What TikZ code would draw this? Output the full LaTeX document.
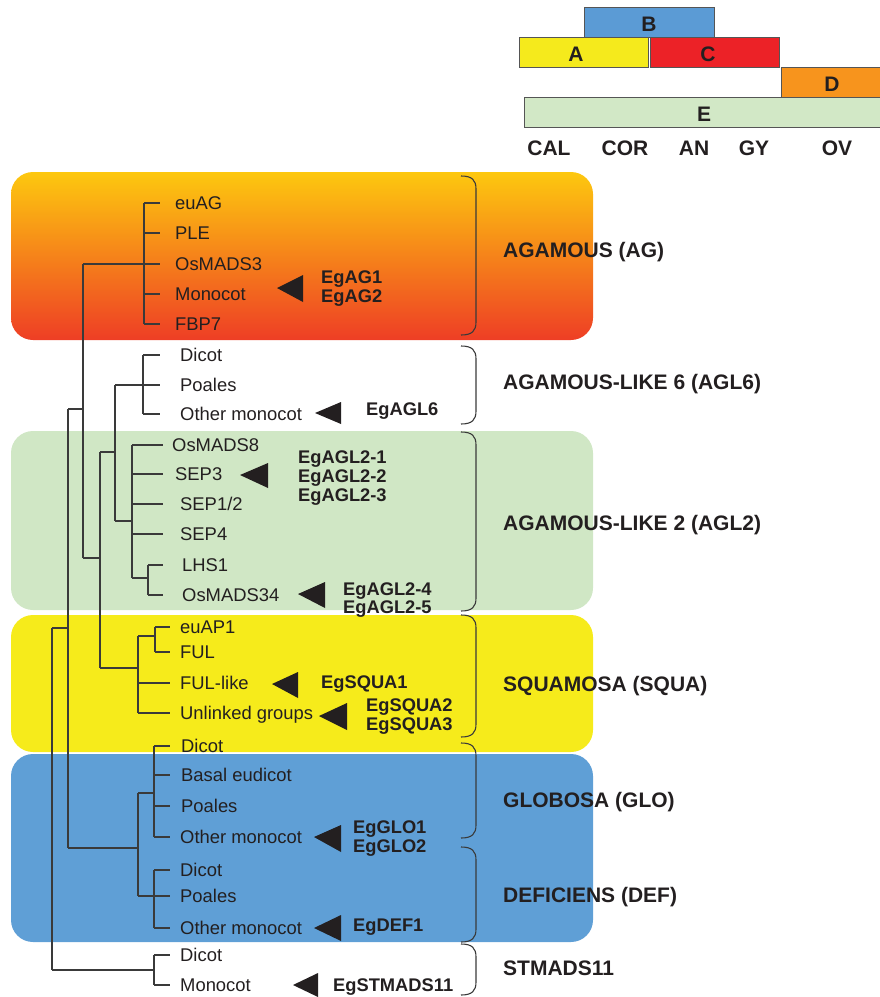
\documentclass[tikz,border=0pt]{standalone}
\usepackage{fontspec}
\setmainfont{Liberation Sans}
\definecolor{linec}{HTML}{3A3A3A}
\definecolor{txt}{HTML}{231F20}
\definecolor{boxline}{HTML}{555555}
\definecolor{agtop}{HTML}{FDC80F}
\definecolor{agmid}{HTML}{F7931E}
\definecolor{agbot}{HTML}{EE3E25}
\definecolor{gfill}{HTML}{D0E7C5}
\definecolor{yfill}{HTML}{F6EB1B}
\definecolor{bfill}{HTML}{5F9FD6}
\definecolor{colA}{HTML}{F5EA1C}
\definecolor{colB}{HTML}{5B9BD5}
\definecolor{colC}{HTML}{EC2227}
\definecolor{colD}{HTML}{F7941D}
\definecolor{colE}{HTML}{D2E8C6}
\newcommand\mytick[3]{\draw[tree] (#1 |- #2.west) -- ++(#3,0);}
\newcommand\mybrk[2]{\draw[brk] (461,#1) .. controls (472,#1) and (476,#1+4) .. (476,#1+13) -- (476,#2-13) .. controls (476,#2-4) and (472,#2) .. (461,#2);}
\begin{document}
\begin{tikzpicture}[x=1pt,y=-1pt,
  tree/.style={draw=linec, line width=1.1pt},
  brk/.style={draw=linec, line width=1.1pt},
  leaf/.style={anchor=west, inner sep=0pt, text height=13.2pt, text depth=0pt, text=txt, font=\fontsize{18.4}{20}\selectfont},
  eg/.style={anchor=west, inner sep=0pt, text height=13.2pt, text depth=0pt, text=txt, font=\bfseries\fontsize{18.3}{20}\selectfont},
  grp/.style={anchor=west, inner sep=0pt, text height=15pt, text depth=0pt, text=txt, font=\bfseries\fontsize{21}{23}\selectfont},
  lbl/.style={anchor=center, inner sep=0pt, text height=15pt, text depth=0pt, text=txt, font=\bfseries\fontsize{21}{23}\selectfont},
  gbox/.style={draw=boxline, line width=0.9pt, inner sep=0pt, minimum height=30, anchor=north west},
  tri/.style={fill=txt}]
\useasboundingbox (0,0) rectangle (880,997);

% ---- coloured background panels
\shade[rounded corners=22pt, top color=agtop, middle color=agmid, bottom color=agbot] (11,172) rectangle (593,340);
\fill[gfill, rounded corners=22pt] (11,431) rectangle (593,610);
\fill[yfill, rounded corners=22pt] (11,615) rectangle (593,752);
\fill[bfill, rounded corners=22pt] (11,754) rectangle (593,942);

% ---- ABCDE model
\node[gbox, fill=colB, minimum width=130] (boxB) at (584,7) {};
\node[gbox, fill=colA, minimum width=129] (boxA) at (519,37) {};
\node[gbox, fill=colC, minimum width=129] (boxC) at (650,37) {};
\node[gbox, fill=colD, minimum width=105] (boxD) at (781,67) {};
\node[gbox, fill=colE, minimum width=362] (boxE) at (524,97) {};
\node[lbl] (lA) at (576,54) {A};
\node[lbl] (lB) at (649,24) {B};
\node[lbl] (lC) at (708,54) {C};
\node[lbl] (lD) at (832,84) {D};
\node[lbl] (lE) at (704,114) {E};
\node[lbl] (CAL) at (549,148) {CAL};
\node[lbl] (COR) at (625,148) {COR};
\node[lbl] (AN) at (694,148) {AN};
\node[lbl] (GY) at (754,148) {GY};
\node[lbl] (OV) at (837,148) {OV};

% ---- leaves
\node[leaf] (euAG) at (175,203) {euAG};
\node[leaf] (PLE) at (175,233) {PLE};
\node[leaf] (OsMADS3) at (175,264) {OsMADS3};
\node[leaf] (agMono) at (175,294) {Monocot};
\node[leaf] (FBP7) at (175,324) {FBP7};

\node[leaf] (lDicot) at (180,355) {Dicot};
\node[leaf] (lPoales) at (180,385) {Poales};
\node[leaf] (lOther) at (180,414) {Other monocot};

\node[leaf] (OsMADS8) at (172,445) {OsMADS8};
\node[leaf] (SEP3) at (175,474) {SEP3};
\node[leaf] (SEP12) at (180,504) {SEP1/2};
\node[leaf] (SEP4) at (180,534) {SEP4};
\node[leaf] (LHS1) at (182,565) {LHS1};
\node[leaf] (OsMADS34) at (182,595) {OsMADS34};

\node[leaf] (euAP1) at (180,627) {euAP1};
\node[leaf] (FUL) at (180,652) {FUL};
\node[leaf] (FULlike) at (180,683) {FUL-like};
\node[leaf] (Unlinked) at (180,713) {Unlinked groups};

\node[leaf] (gDicot) at (181,746) {Dicot};
\node[leaf] (gBasal) at (181,775) {Basal eudicot};
\node[leaf] (gPoales) at (181,806) {Poales};
\node[leaf] (gOther) at (180,837) {Other monocot};

\node[leaf] (dDicot) at (180,870) {Dicot};
\node[leaf] (dPoales) at (180,896) {Poales};
\node[leaf] (dOther) at (180,928) {Other monocot};

\node[leaf] (sDicot) at (180,955) {Dicot};
\node[leaf] (sMono) at (180,985) {Monocot};

% ---- internal nodes
\coordinate (cAG) at (144,264);
\coordinate (cL6) at (143,385);
\coordinate (cL2) at (132,521);
\coordinate (cLHS) at (148,578);
\coordinate (cAP1) at (155,636);
\coordinate (cSQ) at (138,668);
\coordinate (cGLO) at (154,793);
\coordinate (cDEF) at (154,896);
\coordinate (cBC) at (138,848);
\coordinate (cST) at (154,970);
\coordinate (c115) at (115,452);
\coordinate (c100) at (100,558);
\coordinate (c83) at (83,409);
\coordinate (c68) at (68,628);
\coordinate (c52) at (52,800);

% AG clade
\draw[tree] (cAG |- euAG.west) -- (cAG |- FBP7.west);
\foreach \l in {euAG,PLE,OsMADS3,agMono,FBP7} {\mytick{cAG}{\l}{16}}
% AGL6 clade
\draw[tree] (cL6 |- lDicot.west) -- (cL6 |- lOther.west);
\foreach \l in {lDicot,lPoales,lOther} {\mytick{cL6}{\l}{17}}
% AGL2 clade
\draw[tree] (cL2 |- OsMADS8.west) -- (cL2 |- cLHS);
\foreach \l in {OsMADS8,SEP3,SEP12,SEP4} {\mytick{cL2}{\l}{31}}
\draw[tree] (cL2 |- cLHS) -- (cLHS);
\draw[tree] (cLHS |- LHS1.west) -- (cLHS |- OsMADS34.west);
\foreach \l in {LHS1,OsMADS34} {\mytick{cLHS}{\l}{15}}
% SQUA clade
\draw[tree] (cAP1 |- euAP1.west) -- (cAP1 |- FUL.west);
\foreach \l in {euAP1,FUL} {\mytick{cAP1}{\l}{15}}
\draw[tree] (cSQ |- cAP1) -- (cSQ |- Unlinked.west);
\draw[tree] (cSQ |- cAP1) -- (cAP1);
\foreach \l in {FULlike,Unlinked} {\mytick{cSQ}{\l}{32}}
% GLO / DEF clades
\draw[tree] (cGLO |- gDicot.west) -- (cGLO |- gOther.west);
\foreach \l in {gDicot,gBasal,gPoales,gOther} {\mytick{cGLO}{\l}{16}}
\draw[tree] (cDEF |- dDicot.west) -- (cDEF |- dOther.west);
\foreach \l in {dDicot,dPoales,dOther} {\mytick{cDEF}{\l}{16}}
\draw[tree] (cBC |- cGLO) -- (cBC |- cDEF);
\draw[tree] (cBC |- cGLO) -- (cGLO);
\draw[tree] (cBC |- cDEF) -- (cDEF);
% STMADS11 clade
\draw[tree] (cST |- sDicot.west) -- (cST |- sMono.west);
\foreach \l in {sDicot,sMono} {\mytick{cST}{\l}{16}}
% deeper nodes
\draw[tree] (c115 |- cL6) -- (c115 |- cL2);
\draw[tree] (c115 |- cL6) -- (cL6);
\draw[tree] (c115 |- cL2) -- (cL2);
\draw[tree] (c100 |- c115) -- (c100 |- cSQ);
\draw[tree] (c100 |- c115) -- (c115);
\draw[tree] (c100 |- cSQ) -- (cSQ);
\draw[tree] (c83 |- cAG) -- (c83 |- c100);
\draw[tree] (c83 |- cAG) -- (cAG);
\draw[tree] (c83 |- c100) -- (c100);
\draw[tree] (c68 |- c83) -- (c68 |- cBC);
\draw[tree] (c68 |- c83) -- (c83);
\draw[tree] (c68 |- cBC) -- (cBC);
\draw[tree] (c52 |- c68) -- (c52 |- cST);
\draw[tree] (c52 |- c68) -- (c68);
\draw[tree] (c52 |- cST) -- (cST);

% ---- triangles
\fill[tri] (277,288) -- (303,275) -- (303,302) -- cycle;
\fill[tri] (315,413) -- (341,402) -- (341,424) -- cycle;
\fill[tri] (240,475) -- (268,463) -- (268,488) -- cycle;
\fill[tri] (298,594) -- (325,582) -- (325,608) -- cycle;
\fill[tri] (272,684) -- (298,672) -- (298,698) -- cycle;
\fill[tri] (319,716) -- (347,703) -- (347,730) -- cycle;
\fill[tri] (314,837) -- (341,825) -- (341,852) -- cycle;
\fill[tri] (314,928) -- (341,915) -- (341,941) -- cycle;
\fill[tri] (293,985) -- (318,973) -- (318,997) -- cycle;

% ---- Eucalyptus gene labels
\node[eg] (EgAG1) at (321,277) {EgAG1};
\node[eg] (EgAG2) at (321,296) {EgAG2};
\node[eg] (EgAGL6) at (366,409) {EgAGL6};
\node[eg] (EgAGL21) at (298,457) {EgAGL2-1};
\node[eg] (EgAGL22) at (298,476) {EgAGL2-2};
\node[eg] (EgAGL23) at (298,495) {EgAGL2-3};
\node[eg] (EgAGL24) at (343,589) {EgAGL2-4};
\node[eg] (EgAGL25) at (343,607) {EgAGL2-5};
\node[eg] (EgSQUA1) at (321,682) {EgSQUA1};
\node[eg] (EgSQUA2) at (366,705) {EgSQUA2};
\node[eg] (EgSQUA3) at (366,724) {EgSQUA3};
\node[eg] (EgGLO1) at (353,827) {EgGLO1};
\node[eg] (EgGLO2) at (353,846) {EgGLO2};
\node[eg] (EgDEF1) at (353,925) {EgDEF1};
\node[eg] (EgSTMADS11) at (333,985) {EgSTMADS11};

% ---- brackets
\mybrk{176}{335}
\mybrk{346}{424}
\mybrk{432}{611}
\mybrk{615}{737}
\mybrk{743}{838}
\mybrk{847}{942}
\mybrk{944}{995}

% ---- group names
\node[grp] (gAG) at (503,250) {AGAMOUS (AG)};
\node[grp] (gAGL6) at (503,382) {AGAMOUS-LIKE 6 (AGL6)};
\node[grp] (gAGL2) at (503,523) {AGAMOUS-LIKE 2 (AGL2)};
\node[grp] (gSQUA) at (503,684) {SQUAMOSA (SQUA)};
\node[grp] (gGLO) at (503,800) {GLOBOSA (GLO)};
\node[grp] (gDEF) at (503,895) {DEFICIENS (DEF)};
\node[grp] (gST) at (503,968) {STMADS11};
\end{tikzpicture}
\end{document}
